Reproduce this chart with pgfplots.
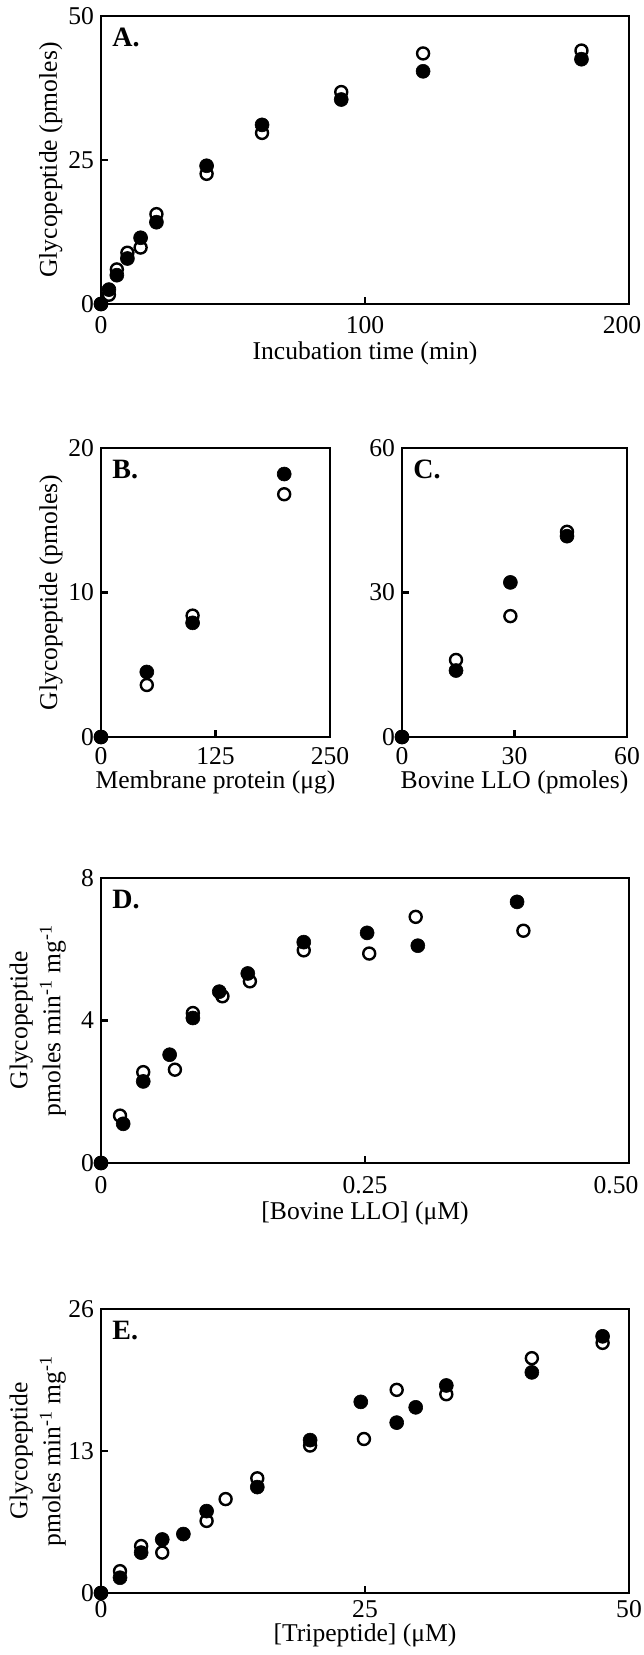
\documentclass[border=0pt]{standalone}
\usepackage{fontspec}
\setmainfont{Liberation Serif}
\usepackage{pgfplots}
\pgfplotsset{compat=1.18}

\newcommand\labfont{\fontsize{12.8}{16.5}\selectfont}

\pgfplotsset{
  panel/.style={
    scale only axis, clip=false,
    axis line style={line width=1.4pt},
    tick style={line width=1.1pt, black},
    major tick length=3.5pt,
    tick align=inside, tick pos=left,
    tick label style={font=\labfont},
    /pgf/number format/assume math mode=true,
    scaled ticks=false,
  },
  xlab/.style={every axis x label/.style={at={(axis description cs:0.5,#1)},
    anchor=center, font=\labfont}},
  ylab/.style={every axis y label/.style={at={(axis description cs:#1,0.5)},
    rotate=90, anchor=center, align=center, font=\labfont}},
  xtl/.style={xticklabel style={anchor=center, yshift=#1}},
  openc/.style={only marks, mark=o, mark size=3pt, mark options={line width=1.2pt, black}},
  fullc/.style={only marks, mark=*, mark size=3.5pt, mark options={black, line width=0.3pt}},
}
\tikzset{
  letter/.style={anchor=north west, inner sep=0pt, xshift=5.5pt, yshift=-6pt,
    font=\fontsize{14}{16}\selectfont\bfseries},
}

\begin{document}
\begin{tikzpicture}
\useasboundingbox (0,0) rectangle (321.5pt,-827.5pt);

% A: time course
\begin{axis}[panel, at={(50.5pt,-8pt)}, anchor=north west,
  width=264pt, height=144pt,
  xmin=0, xmax=200, ymin=0, ymax=50,
  xtick={0,100,200}, ytick={0,25,50},
  xticklabels={0,100,\hspace*{-7pt}200},
  xtl=-10.5pt, xlab=-0.170, ylab=-0.095,
  xlabel={Incubation time (min)}, ylabel={Glycopeptide (pmoles)},
]
\addplot[openc] coordinates {(0,0) (3,1.6) (6,6.0) (10,8.9) (15,9.8) (21,15.6)
  (40,22.6) (61,29.7) (91,36.8) (122,43.5) (182,44.0)};
\addplot[fullc] coordinates {(0,0) (3,2.5) (6,5.0) (10,7.9) (15,11.5) (21,14.2)
  (40,24.0) (61,31.1) (91,35.5) (122,40.4) (182,42.5)};
\node[letter] at (rel axis cs:0,1) {A.};
\end{axis}

% B: membrane protein
\begin{axis}[panel, at={(50.5pt,-224pt)}, anchor=north west,
  width=114.5pt, height=144.5pt,
  xmin=0, xmax=250, ymin=0, ymax=20,
  xtick={0,125,250}, ytick={0,10,20},
  xtl=-9.5pt, xlab=-0.156, ylab=-0.218,
  xlabel={Membrane protein (μg)}, ylabel={Glycopeptide (pmoles)},
]
\addplot[openc] coordinates {(0,0) (50,3.6) (100,8.4) (200,16.8)};
\addplot[fullc] coordinates {(0,0) (50,4.5) (100,7.9) (200,18.2)};
\node[letter] at (rel axis cs:0,1) {B.};
\end{axis}

% C: bovine LLO
\begin{axis}[panel, at={(201pt,-224pt)}, anchor=north west,
  width=112.5pt, height=144.5pt,
  xmin=0, xmax=60, ymin=0, ymax=60,
  xtick={0,30,60}, ytick={0,30,60},
  xtl=-9.5pt, xlab=-0.156,
  xlabel={Bovine LLO (pmoles)},
]
\addplot[openc] coordinates {(0,0) (14.4,16.0) (28.9,25.1) (44,42.6)};
\addplot[fullc] coordinates {(0,0) (14.4,13.8) (28.9,32.1) (44,41.7)};
\node[letter] at (rel axis cs:0,1) {C.};
\end{axis}

% D: LLO concentration
\begin{axis}[panel, at={(50.5pt,-439pt)}, anchor=north west,
  width=264pt, height=142.5pt,
  xmin=0, xmax=0.5, ymin=0, ymax=8,
  xtick={0,0.25,0.5}, xticklabels={0,0.25,\hspace*{-13pt}0.50}, ytick={0,4,8},
  xtl=-11pt, xlab=-0.175, ylab=-0.120,
  xlabel={[Bovine LLO] (μM)},
  ylabel={Glycopeptide\\pmoles min\textsuperscript{-1} mg\textsuperscript{-1}},
]
\addplot[openc] coordinates {(0,0) (0.018,1.33) (0.040,2.55) (0.070,2.62) (0.087,4.21)
  (0.115,4.68) (0.141,5.10) (0.192,5.97) (0.254,5.88) (0.298,6.91) (0.400,6.52)};
\addplot[fullc] coordinates {(0,0) (0.021,1.10) (0.040,2.29) (0.065,3.04) (0.087,4.07)
  (0.112,4.81) (0.139,5.32) (0.192,6.20) (0.252,6.46) (0.300,6.10) (0.394,7.33)};
\node[letter] at (rel axis cs:0,1) {D.};
\end{axis}

% E: tripeptide
\begin{axis}[panel, at={(50.5pt,-654.5pt)}, anchor=north west,
  width=264pt, height=142pt,
  xmin=0, xmax=50, ymin=0, ymax=26,
  xtick={0,25,50}, ytick={0,13,26},
  xtl=-8pt, xlab=-0.148, ylab=-0.120,
  xlabel={[Tripeptide] (μM)},
  ylabel={Glycopeptide\\pmoles min\textsuperscript{-1} mg\textsuperscript{-1}},
]
\addplot[openc] coordinates {(0,0) (1.8,2.0) (3.8,4.3) (5.8,3.7) (10,6.6) (11.8,8.6)
  (14.8,10.5) (19.8,13.5) (24.9,14.1) (28,18.6) (32.7,18.2) (40.8,21.5) (47.5,22.9)};
\addplot[fullc] coordinates {(0,0) (1.8,1.4) (3.8,3.7) (5.8,4.9) (7.8,5.4) (10,7.5)
  (14.8,9.7) (19.8,14.0) (24.6,17.5) (28,15.6) (29.8,17.0) (32.7,19.0) (40.8,20.2) (47.5,23.5)};
\node[letter] at (rel axis cs:0,1) {E.};
\end{axis}
\end{tikzpicture}
\end{document}
